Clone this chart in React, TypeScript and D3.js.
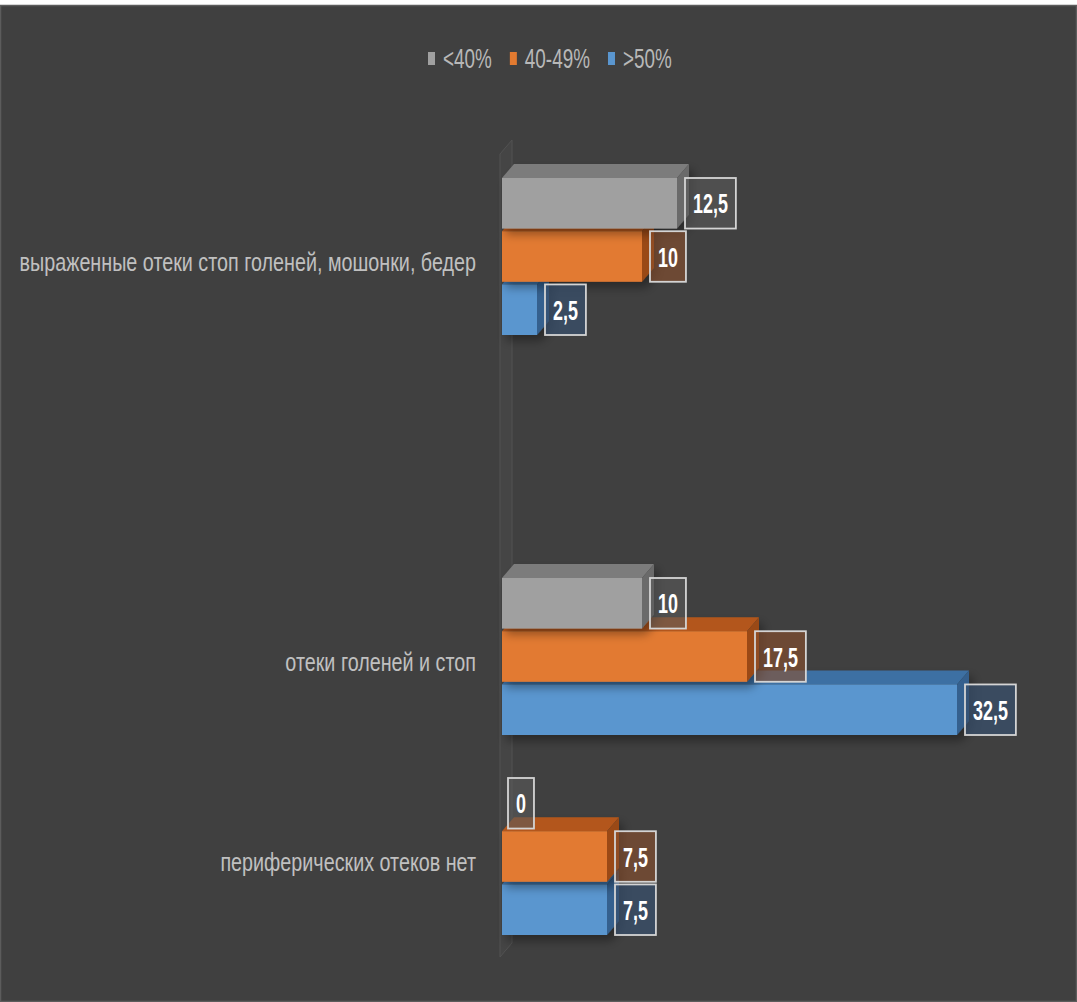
import React, { useEffect, useRef } from "react";
import * as d3 from "d3";

const categories = [
  "выраженные отеки стоп голеней, мошонки, бедер",
  "отеки голеней и стоп",
  "периферических отеков нет",
];
const seriesNames = ["<40%", "40-49%", ">50%"];
const seriesLt40 = [12.5, 10, 0];
const series40to49 = [10, 17.5, 7.5];
const seriesGt50 = [2.5, 32.5, 7.5];
const xDomain = [0, 35];

const seriesValues = [seriesLt40, series40to49, seriesGt50];
const frontColors = ["#a0a0a0", "#e27a30", "#5a96cf"];
const topColors = ["#7c7c7c", "#b3571b", "#3d6fa3"];
const sideColors = ["#6a6a6a", "#9a4a16", "#34608e"];
const boxColors = ["rgba(90,90,90,0.6)", "rgba(140,80,45,0.6)", "rgba(55,80,110,0.7)"];

const W = 1077;
const H = 1002;

export default function App() {
  const ref = useRef<SVGSVGElement | null>(null);

  useEffect(() => {
    const svg = d3.select(ref.current);
    svg.selectAll("*").remove();
    const font = "'Liberation Sans', Arial, sans-serif";
    const fmt = d3.formatLocale({ decimal: ",", thousands: " ", grouping: [3], currency: ["", ""] }).format("~g");

    const defs = svg.append("defs");
    const f = defs.append("filter").attr("id", "sh").attr("x", "-10%").attr("y", "-30%").attr("width", "130%").attr("height", "170%");
    f.append("feDropShadow").attr("dx", 4).attr("dy", 6).attr("stdDeviation", 5).attr("flood-color", "#000").attr("flood-opacity", 0.35);

    svg.append("rect").attr("x", 0).attr("y", 0).attr("width", W).attr("height", H).attr("fill", "#ffffff");
    svg.append("rect").attr("x", 0.5).attr("y", 5.5).attr("width", W - 1).attr("height", H - 6)
      .attr("fill", "#404040").attr("stroke", "#5c5c5c").attr("stroke-width", 1.5);

    // slot domain: a blank slot between first and second category
    const slotDomain = [categories[0], "__gap__", categories[1], categories[2]];
    const y = d3.scaleBand<string>().domain(slotDomain).range([157, 957]).padding(0);
    const inner = d3.scaleBand<string>().domain(seriesNames).range([21, 178]).paddingInner(0.05);
    const x = d3.scaleLinear().domain(xDomain).range([502, 992]);

    const dx = 12, dy = 14;

    // side wall
    const wallTop = y(categories[0])! - 17;
    const wallBot = y(categories[2])! + y.bandwidth();
    svg.append("polygon")
      .attr("points", [[x(0) - 2, wallTop + dy], [x(0) - 2 + dx, wallTop], [x(0) - 2 + dx, wallBot - dy], [x(0) - 2, wallBot]].map(p => p.join(",")).join(" "))
      .attr("fill", "#454545").attr("stroke", "#525252").attr("stroke-width", 1);

    // legend
    const lg = svg.append("g");
    const lsx = 0.7;
    let lx = 428;
    seriesNames.forEach((s, i) => {
      lg.append("rect").attr("x", lx).attr("y", 52).attr("width", 7).attr("height", 13).attr("fill", frontColors[i]);
      const t = lg.append("text").attr("transform", `translate(${lx + 15},68) scale(${lsx},1)`)
        .attr("font-family", font).attr("font-size", 27).attr("fill", "#b8b8b8").text(s);
      const w = (t.node() as SVGTextElement).getComputedTextLength() * lsx;
      lx = lx + 15 + w + 18;
    });

    // category labels
    const csx = 0.76;
    categories.forEach((c) => {
      const cy = y(c)! + y.bandwidth() / 2 + 14;
      svg.append("text").attr("transform", `translate(476,${cy}) scale(${csx},1)`)
        .attr("text-anchor", "end").attr("font-family", font).attr("font-size", 26)
        .attr("fill", "#c0c0c0").text(c);
    });

    // bars
    const bars = svg.append("g");
    categories.forEach((c, ci) => {
      for (let si = seriesNames.length - 1; si >= 0; si--) {
        const v = seriesValues[si][ci];
        const by = y(c)! + inner(seriesNames[si])!;
        const bh = inner.bandwidth();
        const x0 = x(0);
        const x1 = x(v);
        const g = bars.append("g").attr("filter", "url(#sh)");
        if (v > 0) {
          g.append("polygon")
            .attr("points", [[x0, by], [x0 + dx, by - dy], [x1 + dx, by - dy], [x1, by]].map(p => p.join(",")).join(" "))
            .attr("fill", topColors[si]);
          g.append("polygon")
            .attr("points", [[x1, by], [x1 + dx, by - dy], [x1 + dx, by + bh - dy], [x1, by + bh]].map(p => p.join(",")).join(" "))
            .attr("fill", sideColors[si]);
          g.append("rect").attr("x", x0).attr("y", by).attr("width", x1 - x0).attr("height", bh).attr("fill", frontColors[si]);
        }
      }
    });

    // data labels
    const dsx = 0.64;
    const lblG = svg.append("g");
    categories.forEach((c, ci) => {
      seriesNames.forEach((s, si) => {
        const v = seriesValues[si][ci];
        const by = y(c)! + inner(s)!;
        const bh = inner.bandwidth();
        const bx = x(v) + (v > 0 ? 8 : 6);
        const gr = lblG.append("g");
        const rect = gr.append("rect");
        const t = gr.append("text").attr("font-family", font).attr("font-size", 28).attr("font-weight", "bold")
          .attr("fill", "#ffffff").attr("text-anchor", "middle").text(fmt(v));
        const tw = (t.node() as SVGTextElement).getComputedTextLength() * dsx;
        const bw = tw + 16;
        rect.attr("x", bx).attr("y", by).attr("width", bw).attr("height", bh)
          .attr("fill", boxColors[si]).attr("stroke", "#d4d4d4").attr("stroke-width", 1.8);
        t.attr("transform", `translate(${bx + bw / 2},${by + bh / 2 + 10}) scale(${dsx},1)`);
      });
    });
  }, []);

  return (
    <svg ref={ref} width={W} height={H} style={{ position: "absolute", left: 0, top: 0, display: "block" }} />
  );
}
